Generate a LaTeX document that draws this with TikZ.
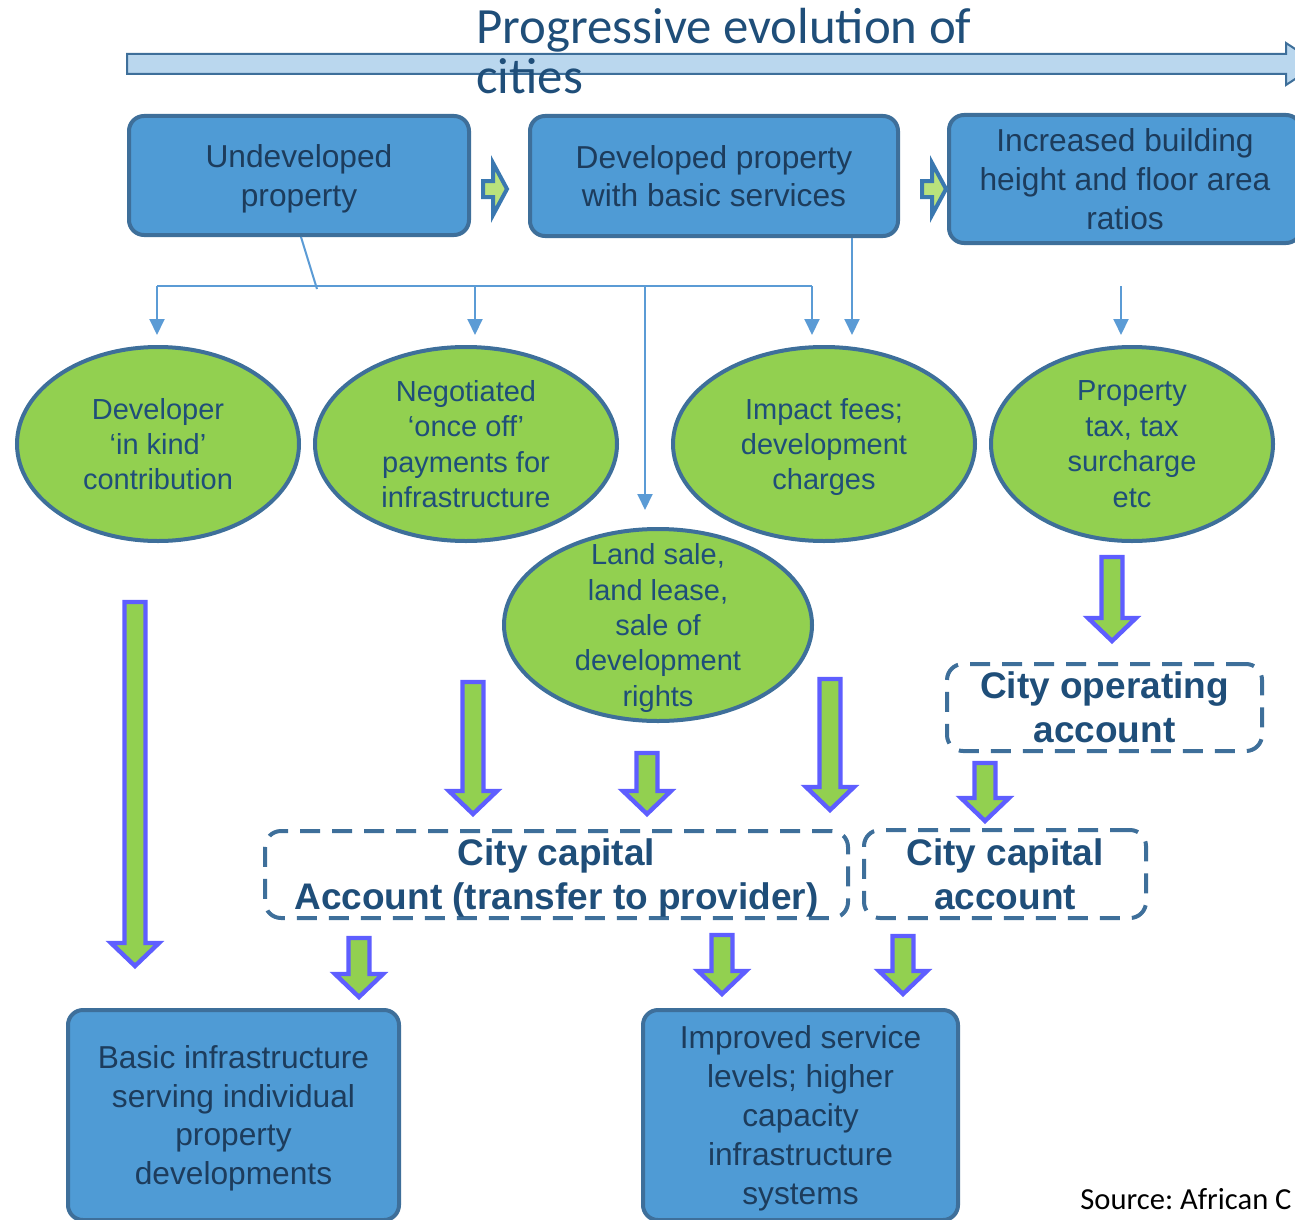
\documentclass[tikz,border=0pt]{standalone}
\usepackage{fontspec}
\setmainfont{Liberation Sans}
\newfontfamily\calibrifont{Carlito}
\usepackage{xcolor}
\usepackage{tikz}
\usetikzlibrary{arrows.meta,shapes.geometric,positioning}
\definecolor{evBox}{HTML}{4F9BD5}
\definecolor{evEdge}{HTML}{3E6F9A}
\definecolor{evGreen}{HTML}{92D050}
\definecolor{evLime}{HTML}{B9E27C}
\definecolor{evLink}{HTML}{5B9BD5}
\definecolor{evFlow}{HTML}{5E5EFF}
\definecolor{evInk}{HTML}{1D3C5C}
\definecolor{evNavy}{HTML}{1F4E79}
\definecolor{evSky}{HTML}{BAD7EE}
\definecolor{evStep}{HTML}{3A78B0}
\tikzset{
  ev diagram/.style={line join=miter},
  ev box/.style={draw=evEdge, fill=evBox, line width=2pt,
    rounded corners=7.5pt, align=center, inner sep=0pt, text=evInk,
    font=\fontsize{15.85pt}{19.4pt}\selectfont, text depth=-1.5pt},
  ev fee/.style={ellipse, draw=evEdge, fill=evGreen, line width=2pt,
    align=center, inner xsep=0pt, inner ysep=-12pt, text=evNavy,
    font=\fontsize{14.5pt}{17.7pt}\selectfont, text depth=-1pt},
  ev account/.style={draw=evEdge, line width=2pt, dash pattern=on 10pt off 6pt,
    rounded corners=8pt, align=center, inner sep=0pt, text=evNavy,
    font=\bfseries\fontsize{18.5pt}{22pt}\selectfont, text depth=-1pt},
  ev link/.style={draw=evLink, line width=1pt},
  ev tip/.style={ev link, -{Triangle[length=8pt,width=7.5pt]}},
  ev flow/.style={draw=evFlow, fill=evGreen, line width=2.2pt},
  ev step/.style={draw=evStep, fill=evLime, line width=2pt}
}
\begin{document}
\begin{tikzpicture}[ev diagram,x=0.5pt,y=-0.5pt]
\useasboundingbox (0,0) rectangle (1295,1220);
\draw[draw=evEdge,fill=evSky,line width=1pt] (127,54) -- (1286,54) -- (1286,43) -- (1318,64) -- (1286,85) -- (1286,74) -- (127,74) -- cycle;
\node[anchor=north west,inner sep=0pt,align=left,text=evNavy,font=\calibrifont\fontsize{25.4pt}{25pt}\selectfont] (title) at (476,8) {Progressive evolution of\\cities};

\node[ev box,minimum width=170pt,minimum height=59.5pt] (undev) at (299,175.5) {Undeveloped\\property};
\node[ev box,minimum width=184pt,minimum height=60pt] (devel) at (714,176) {Developed property\\with basic services};
\node[ev box,minimum width=176pt,minimum height=64pt] (height) at (1125,179) {Increased building\\height and floor area\\ratios};
\foreach \sx in {483,922}
  \draw[ev step] (\sx,181) -- (\sx+10,181) -- (\sx+10,163) -- (\sx+24,189) -- (\sx+10,215) -- (\sx+10,197) -- (\sx,197) -- cycle;

\node[ev fee,minimum width=141pt,minimum height=97pt] (kind) at (158,444) {Developer\\‘in kind’\\contribution};
\node[ev fee,minimum width=151pt,minimum height=97pt] (negot) at (466,444) {Negotiated\\‘once off’\\payments for\\infrastructure};
\node[ev fee,minimum width=151pt,minimum height=97pt] (impact) at (824,444) {Impact fees;\\development\\charges};
\node[ev fee,minimum width=141pt,minimum height=97pt] (tax) at (1132,444) {Property\\tax, tax\\surcharge\\etc};
\node[ev fee,minimum width=154pt,minimum height=96pt] (land) at (658,625) {Land sale,\\land lease,\\sale of\\development\\rights};

\coordinate (tap) at (317,289);
\coordinate (bus w) at (157,286);
\coordinate (bus n) at (475,286);
\coordinate (bus l) at (645,286);
\coordinate (bus e) at (812,286);
\coordinate (tax feed) at (1121,286);
\draw[ev link] ([xshift=1pt]undev.south) -- (tap);
\draw[ev link] (bus w) -- (bus e);
\draw[ev tip,shorten >=5pt] (bus w) -- (bus w |- kind.north);
\draw[ev tip,shorten >=5pt] (bus n) -- (bus n |- negot.north);
\draw[ev tip,shorten >=8.5pt] (bus l) -- (bus l |- land.north);
\draw[ev tip,shorten >=5pt] (bus e) -- (bus e |- impact.north);
\draw[ev tip,shorten >=5pt] ([xshift=69pt]devel.south) -- ([xshift=69pt]devel.south |- impact.north);
\draw[ev tip,shorten >=5pt] (tax feed) -- (tax feed |- tax.north);

\foreach \xc/\ya/\yb in {135/602/966,473/682/814,647/753/814,830/679/810,1112/557/641,985/763/821,359/938/997,722/935/994,903/936/994}
  \draw[ev flow] (\xc-10.5,\ya) -- (\xc+10.5,\ya) -- (\xc+10.5,\yb-23) -- (\xc+24,\yb-23) -- (\xc,\yb) -- (\xc-24,\yb-23) -- (\xc-10.5,\yb-23) -- cycle;

\node[ev account,minimum width=157.5pt,minimum height=43.5pt] (operating) at (1104.5,707.5) {City operating\\account};
\node[ev account,minimum width=291.5pt,minimum height=43.5pt] (capital) at (556.5,874.5) {City capital\\Account (transfer to provider)};
\node[ev account,minimum width=141pt,minimum height=44pt] (capital r) at (1005,874) {City capital\\account};

\node[ev box,minimum width=165.5pt,minimum height=105pt] (basic) at (233.5,1115) {Basic infrastructure\\serving individual\\property\\developments};
\node[ev box,minimum width=157.5pt,minimum height=105pt] (service) at (800.5,1115) {Improved service\\levels; higher\\capacity\\infrastructure\\systems};

\node[anchor=base west,inner sep=0pt,font=\calibrifont\fontsize{15.3pt}{18pt}\selectfont] (source) at (1080,1209) {Source:\ African C};
\end{tikzpicture}
\end{document}
